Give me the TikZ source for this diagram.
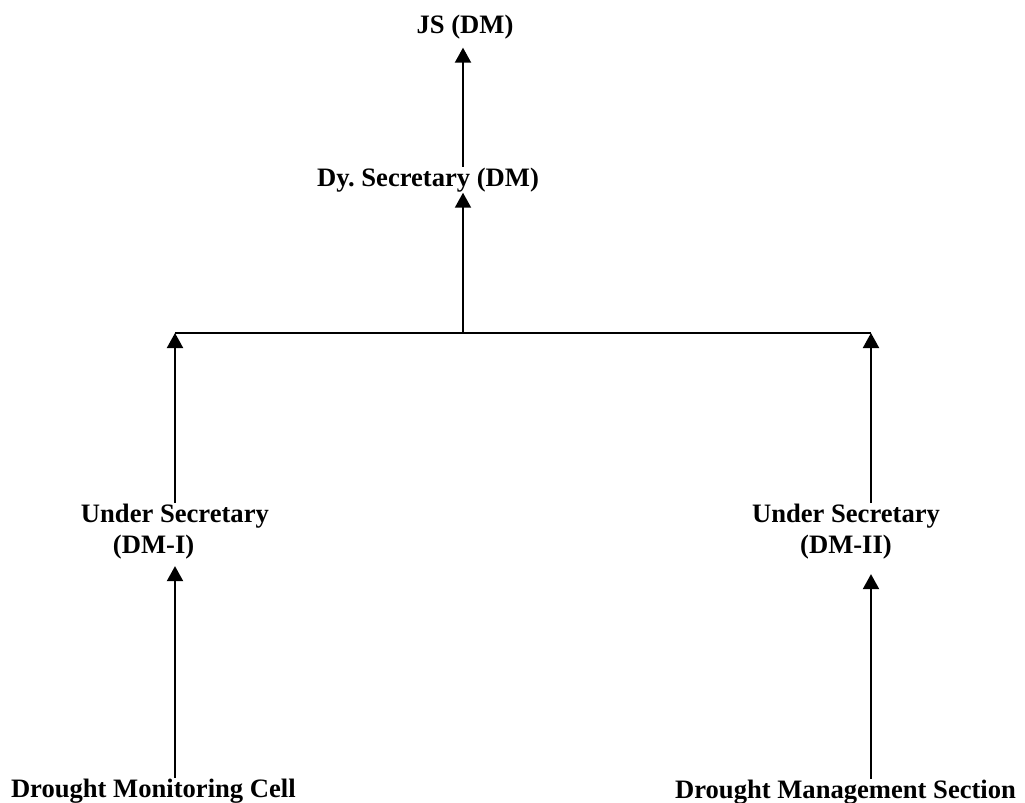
\documentclass[tikz,border=0pt]{standalone}
\usepackage{fontspec}
\setmainfont{Liberation Serif}
\usetikzlibrary{arrows.meta}
\frenchspacing

\begin{document}
\begin{tikzpicture}[x=0.5pt,y=-0.5pt,line width=1pt,
                    lbl/.style={font=\fontsize{13.3}{15.5}\selectfont\bfseries,inner sep=0pt},
                    arr/.style={-{Triangle[length=7.5pt,width=8pt]}}]
    \useasboundingbox (0,0) rectangle (1025,803);

    %% Labels, from the top down.
    \node[lbl,anchor=base] (js) at (465,33) {JS (DM)};
    \node[lbl,anchor=base] (dy) at (428,186) {Dy. Secretary (DM)};
    \node[lbl,anchor=north west,align=left] (usone) at (80,503)
        {Under Secretary\\\hspace{16pt}(DM-I)};
    \node[lbl,anchor=north,align=center] (ustwo) at (846,503)
        {Under Secretary\\(DM-II)};
    \node[lbl,anchor=base west] (cell) at (10,797) {Drought Monitoring Cell};
    \node[lbl,anchor=base east] (section) at (1017,798) {Drought Management Section};

    % The bar that joins the two branches.
    \coordinate (barl) at (175,333);
    \coordinate (barm) at (463,333);
    \coordinate (barr) at (871,333);
    \draw (barl) -- (barr);

    % Arrows going up.
    \draw[arr,shorten >=4pt] (dy.north -| barm) -- (js.south -| barm);
    \draw[arr] (barm) -- (dy.south -| barm);
    \draw[arr] (usone.north -| barl) -- (barl);
    \draw[arr] (ustwo.north -| barr) -- (barr);
    \draw[arr,shorten >=3pt] (cell.north -| barl) -- (usone.south -| barl);
    \draw[arr,shorten >=7pt] (section.north -| barr) -- (ustwo.south -| barr);
\end{tikzpicture}
\end{document}
